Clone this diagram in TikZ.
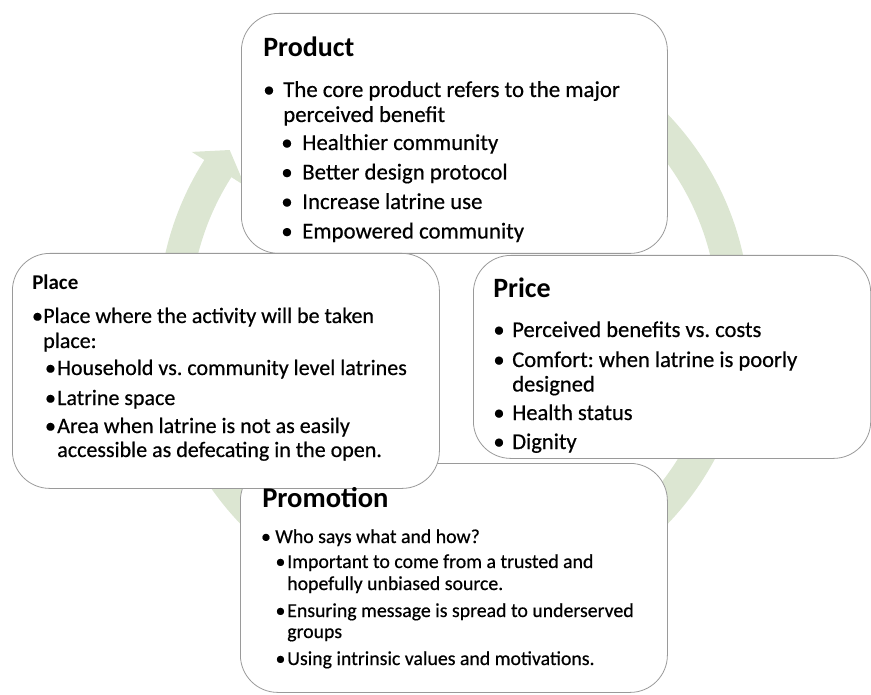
\documentclass[tikz,border=0pt]{standalone}
\usepackage{fontspec}
\setmainfont{Carlito}
\usetikzlibrary{calc}
\definecolor{ringgreen}{HTML}{DCE6D2}
\definecolor{boxline}{HTML}{9A9A9A}
\frenchspacing
\newcommand{\tline}[4]{\node[txt] (#1) at (#2,#3) {#4};}
\newcommand{\tbul}[3]{\node[bul] (#1) at (#2,#3) {\textbullet};}
\begin{document}
\begin{tikzpicture}[x=0.75pt,y=-0.75pt,
  panel/.style={draw=boxline,line width=0.6pt,fill=white,rounded corners=28pt,
    anchor=north west,inner sep=0pt},
  txt/.style={anchor=base west,inner sep=0pt,text=black},
  bul/.style={anchor=base,inner sep=0pt,text=black}]
\useasboundingbox (0,0) rectangle (871,695);

% circular arrow behind the four panels
\coordinate (c) at (454,319);
\fill[ringgreen] ($(c)+(-130:296)$) arc[start angle=-130,end angle=212.5,radius=296]
  -- ($(c)+(212.5:311)$)
  -- ($(c)+(212.5:280)+(302.5:22)$)
  -- ($(c)+(212.5:248)$)
  -- ($(c)+(212.5:264)$) arc[start angle=212.5,end angle=-130,radius=264]
  -- cycle;

% panels
\node[panel,minimum width=319.5pt,minimum height=180pt] (product) at (241,13) {};
\node[panel,minimum width=298pt,minimum height=152.25pt] (price) at (473,255) {};
\node[panel,minimum width=320.25pt,minimum height=171.75pt] (promotion) at (240,463) {};
\node[panel,minimum width=320.25pt,minimum height=176.25pt] (place) at (12,253) {};

% Product
\begin{scope}[every node/.append style={font=\fontsize{17.1}{20}\selectfont\addfontfeature{FakeBold=0.5}}]
\node[txt,font=\fontsize{21}{24}\selectfont\bfseries] (prodT) at (263,57) {Product};
\tbul{prodb1}{269}{97}
\tline{prod1a}{283}{97}{The core product refers to the major}
\tline{prod1b}{283}{122}{perceived benefit}
\tbul{prodb2}{287}{150}
\tline{prod2}{302}{150}{Healthier community}
\tbul{prodb3}{287}{179.5}
\tline{prod3}{302}{179.5}{Better design protocol}
\tbul{prodb4}{287}{209}
\tline{prod4}{302}{209}{Increase latrine use}
\tbul{prodb5}{287}{238.5}
\tline{prod5}{302}{238.5}{Empowered community}
\end{scope}

% Price
\begin{scope}[every node/.append style={font=\fontsize{16.9}{20}\selectfont\addfontfeature{FakeBold=0.5}}]
\node[txt,font=\fontsize{21}{24}\selectfont\bfseries] (priceT) at (493,298) {Price};
\tbul{priceb1}{499}{337}
\tline{price1}{512}{337}{Perceived benefits vs. costs}
\tbul{priceb2}{499}{367}
\tline{price2a}{512}{367}{Comfort: when latrine is poorly}
\tline{price2b}{512}{391.5}{designed}
\tbul{priceb3}{499}{420}
\tline{price3}{512}{420}{Health status}
\tbul{priceb4}{499}{449}
\tline{price4}{512}{449}{Dignity}
\end{scope}

% Promotion
\begin{scope}[every node/.append style={font=\fontsize{14.85}{18}\selectfont\addfontfeature{FakeBold=0.5}}]
\node[txt,font=\fontsize{21.4}{24}\selectfont\bfseries] (promoT) at (262,507) {Promotion};
\tbul{promob1}{266}{543}
\tline{promo1}{275}{543}{Who says what and how?}
\tbul{promob2}{280.5}{568}
\tline{promo2a}{287}{568}{Important to come from a trusted and}
\tline{promo2b}{287}{590}{hopefully unbiased source.}
\tbul{promob3}{280.5}{617}
\tline{promo3a}{287}{617}{Ensuring message is spread to underserved}
\tline{promo3b}{287}{638}{groups}
\tbul{promob4}{280.5}{665}
\tline{promo4}{287}{665}{Using intrinsic values and motivations.}
\end{scope}

% Place
\begin{scope}[every node/.append style={font=\fontsize{16.5}{20}\selectfont\addfontfeature{FakeBold=0.5}}]
\node[txt,font=\fontsize{15.75}{18}\selectfont\bfseries] (placeT) at (32,290) {Place};
\tbul{placeb1}{37.5}{323}
\tline{place1a}{43}{323}{Place where the activity will be taken}
\tline{place1b}{43}{348}{place:}
\tbul{placeb2}{50.5}{375}
\tline{place2}{57}{375}{Household vs. community level latrines}
\tbul{placeb3}{50.5}{405}
\tline{place3}{57}{405}{Latrine space}
\tbul{placeb4}{50.5}{433}
\tline{place4a}{57}{433}{Area when latrine is not as easily}
\tline{place4b}{57}{457}{accessible as defecating in the open.}
\end{scope}
\end{tikzpicture}
\end{document}
